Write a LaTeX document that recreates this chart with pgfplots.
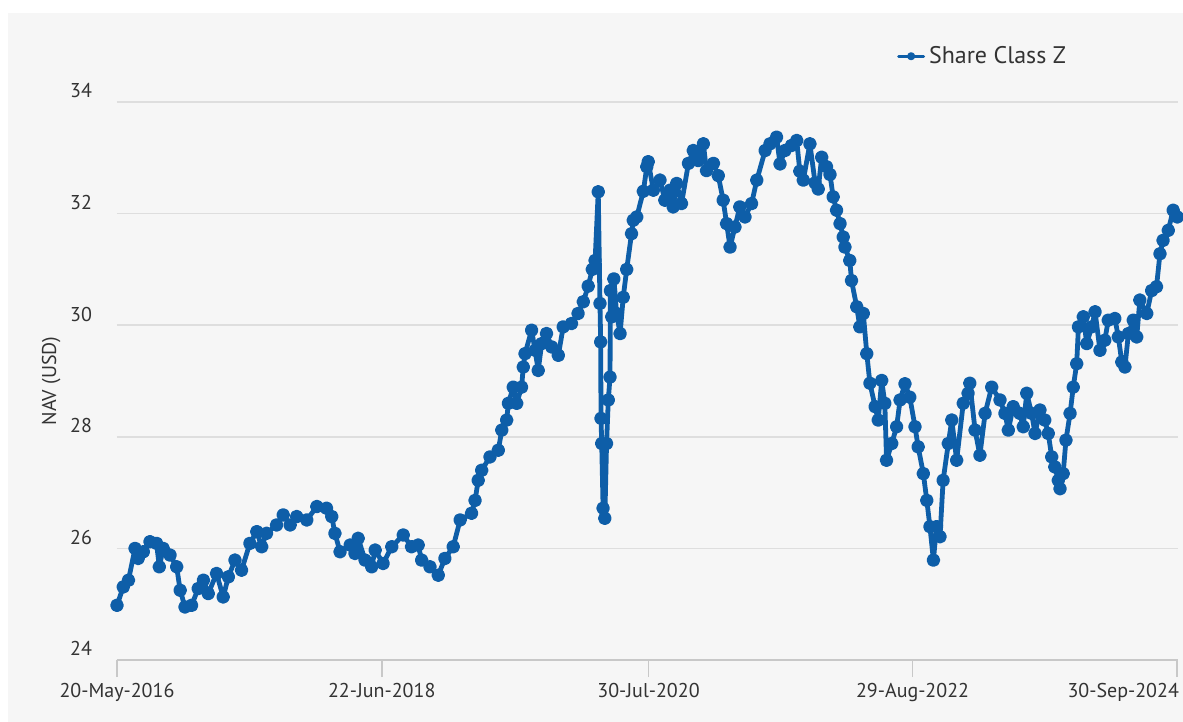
\documentclass[border=0pt]{standalone}
\usepackage{pgfplots}
\pgfplotsset{compat=1.18}
\usepackage{pgfplotstable}
\usepackage{fontspec}
\setmainfont{PT Sans}
\definecolor{navblue}{RGB}{14,94,168}
\definecolor{panel}{RGB}{246,246,246}
\definecolor{gridc}{RGB}{222,222,222}
\definecolor{axisc}{RGB}{200,200,200}
\definecolor{txt}{RGB}{51,51,51}

\pgfplotstableread{
day nav
0 24.98
18 25.31
33 25.43
52 26.00
61 25.82
76 25.94
95 26.12
114 26.09
122 25.67
133 26.00
153 25.88
172 25.67
182 25.25
196 24.95
215 24.98
234 25.28
249 25.43
263 25.19
287 25.55
306 25.13
321 25.49
340 25.79
359 25.61
383 26.09
403 26.30
417 26.03
431 26.27
460 26.42
479 26.60
499 26.42
518 26.57
547 26.51
576 26.75
604 26.72
619 26.57
628 26.27
643 25.94
672 26.06
686 25.91
695 26.18
715 25.79
734 25.67
744 25.97
767 25.73
792 26.03
825 26.24
849 26.03
868 26.06
878 25.79
902 25.67
926 25.52
945 25.82
969 26.03
989 26.51
1022 26.63
1032 26.86
1041 27.22
1051 27.40
1075 27.64
1099 27.76
1109 28.12
1123 28.30
1128 28.60
1142 28.89
1152 28.60
1166 28.89
1171 29.25
1176 29.49
1195 29.91
1205 29.55
1214 29.19
1224 29.67
1238 29.85
1253 29.61
1272 29.46
1286 29.97
1310 30.03
1329 30.21
1344 30.42
1358 30.70
1370 31.00
1378 31.16
1387 32.39
1392 30.39
1394 29.70
1395 28.33
1397 27.88
1401 26.72
1406 26.54
1411 27.88
1416 28.66
1421 29.07
1422 30.62
1426 30.15
1432 30.83
1440 30.21
1450 29.85
1459 30.50
1469 31.00
1483 31.64
1488 31.88
1498 31.94
1517 32.40
1527 32.84
1531 32.93
1546 32.42
1565 32.60
1579 32.24
1594 32.42
1603 32.12
1613 32.54
1627 32.18
1647 32.90
1661 33.13
1675 32.95
1690 33.25
1699 32.77
1719 32.90
1733 32.68
1747 32.24
1757 31.82
1767 31.40
1781 31.76
1795 32.12
1810 31.94
1829 32.18
1844 32.60
1868 33.13
1882 33.25
1901 33.37
1911 32.89
1925 33.13
1944 33.22
1959 33.31
1968 32.76
1978 32.60
1997 33.25
2012 32.55
2021 32.44
2031 33.01
2045 32.84
2055 32.70
2064 32.30
2074 32.06
2084 31.82
2093 31.58
2098 31.40
2112 31.16
2117 30.80
2132 30.33
2141 29.97
2151 30.21
2161 29.49
2170 28.96
2185 28.54
2194 28.30
2204 29.01
2213 28.60
2218 27.58
2233 27.88
2247 28.18
2257 28.66
2271 28.95
2285 28.71
2300 28.18
2309 27.82
2324 27.34
2334 26.86
2343 26.39
2353 25.79
2362 26.39
2372 26.21
2381 27.22
2396 27.88
2406 28.30
2420 27.58
2439 28.60
2453 28.78
2458 28.96
2473 28.12
2487 27.67
2502 28.42
2521 28.89
2545 28.66
2559 28.42
2569 28.12
2583 28.54
2602 28.42
2612 28.18
2622 28.78
2636 28.42
2646 28.06
2660 28.48
2674 28.30
2684 28.06
2694 27.64
2703 27.46
2713 27.22
2718 27.07
2727 27.34
2735 27.94
2747 28.42
2756 28.89
2766 29.31
2771 29.97
2785 30.15
2795 29.67
2809 29.97
2819 30.24
2833 29.55
2847 29.73
2857 30.09
2876 30.12
2886 29.79
2896 29.34
2905 29.25
2915 29.85
2929 30.09
2939 29.79
2948 30.45
2968 30.21
2982 30.62
2996 30.69
3006 31.28
3015 31.52
3030 31.70
3044 32.06
3056 31.94
}\navdata

\begin{document}
\begin{tikzpicture}
\fill[white] (-58.5pt,-31pt) rectangle (533pt,330pt);
\fill[panel] (-54.5pt,-31pt) rectangle (533pt,323.5pt);
\begin{axis}[
  at={(0,0)}, anchor=south west,
  scale only axis, width=530.5pt, height=279pt,
  xmin=0, xmax=3058, ymin=24, ymax=34,
  axis lines*=left,
  y axis line style={draw=none},
  x axis line style={draw=axisc, line width=0.8pt},
  xtick={0,763,1532,2293},
  xticklabels={20-May-2016,22-Jun-2018,30-Jul-2020,29-Aug-2022},
  extra x ticks={3055},
  extra x tick labels={30-Sep-2024},
  extra x tick style={xticklabel style={anchor=north east, xshift=4.5pt}},
  ytick={24,26,28,30,32,34},
  ymajorgrids, grid style={gridc, line width=0.75pt},
  tick align=outside, major tick length=8.5pt,
  xtick style={draw=axisc, line width=0.8pt},
  ytick style={draw=none},
  tick label style={text=txt, font=\fontsize{10}{12}\selectfont},
  /pgf/number format/assume math mode=true,
  yticklabel style={anchor=base east, xshift=-0.5pt, yshift=2pt},
  xticklabel style={yshift=0.5pt},
  ylabel={NAV (USD)},
  ylabel style={at={(rel axis cs:-0.062,0.5)}, anchor=center, text=txt, font=\fontsize{10}{12}\selectfont},
  legend style={draw=none, fill=none, at={(rel axis cs:0.735,1.082)}, anchor=west, inner sep=0pt, font=\fontsize{12}{14}\selectfont, text=txt},
  legend image code/.code={\draw[#1, line width=1.4pt, mark size=1.3pt, mark repeat=2, mark phase=2] plot coordinates {(0pt,0pt) (6.25pt,0pt) (12.5pt,0pt)};},
  clip=false,
]
\addplot[navblue, line width=2.4pt, line join=round, line cap=round, mark=*, mark size=2.2pt, mark options={fill=navblue, draw=none}] table[x=day, y=nav]{\navdata};
\addlegendentry{Share Class Z}
\end{axis}
\pgfresetboundingbox
\path[use as bounding box] (-58.5pt,-31pt) rectangle (533pt,330pt);
\end{tikzpicture}
\end{document}
